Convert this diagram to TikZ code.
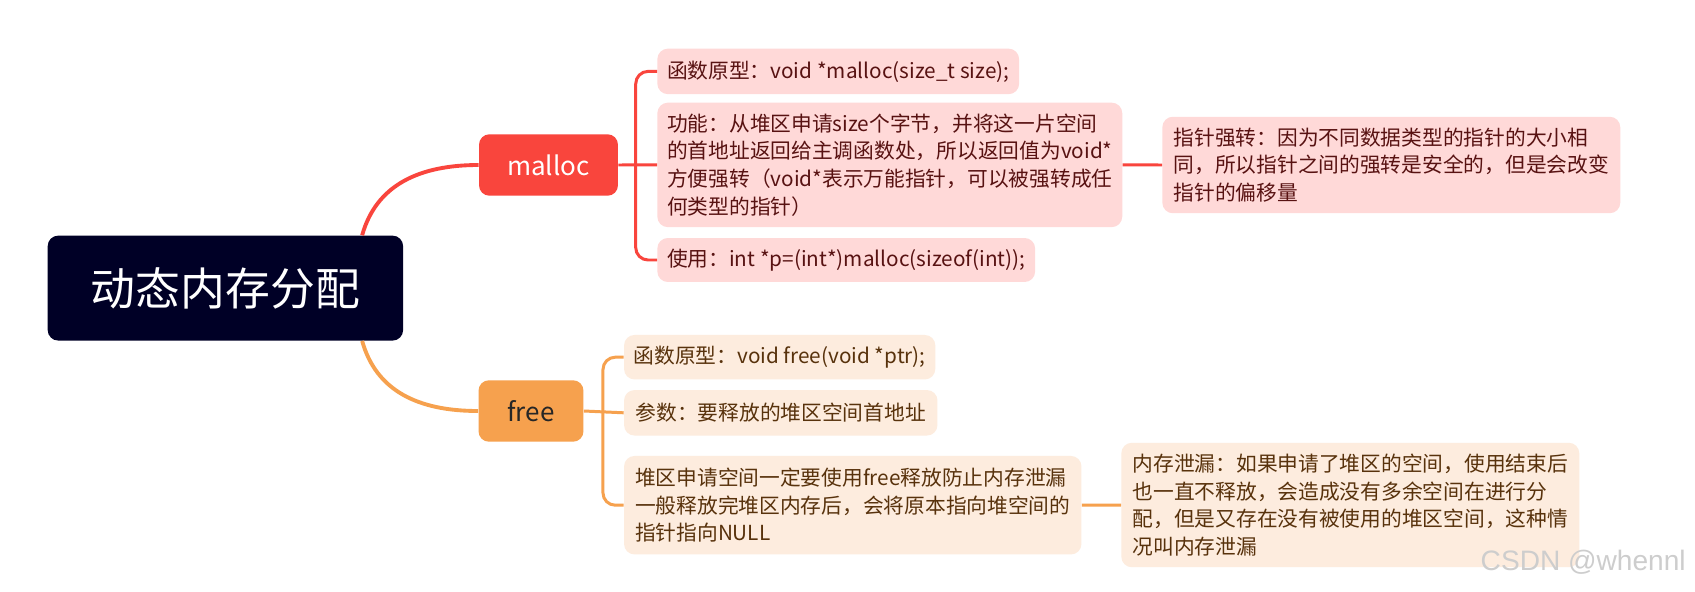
\documentclass[tikz,border=0pt]{standalone}
\usepackage{fontspec}
\setmainfont{Noto Sans CJK SC}
\newfontfamily\markfont{Liberation Sans}
\usepackage{tikz}
\usetikzlibrary{positioning, calc}
\definecolor{rootnavy}{RGB}{0,0,38}
\definecolor{mred}{RGB}{249,69,61}
\definecolor{mpink}{RGB}{255,217,216}
\definecolor{mtext}{RGB}{88,18,18}
\definecolor{forange}{RGB}{246,161,78}
\definecolor{fcream}{RGB}{253,236,222}
\definecolor{ftext}{RGB}{88,50,12}
\definecolor{marks}{RGB}{205,205,205}
\tikzset{
  rootbox/.style={rectangle, fill=rootnavy, text=white, rounded corners=6pt,
    minimum width=7.11cm, minimum height=2.10cm, font=\fontsize{25.5}{30}\selectfont},
  topicbox/.style={rectangle, rounded corners=6pt, minimum height=1.23cm,
    font=\fontsize{14.8}{17}\selectfont},
  mleaf/.style={rectangle, fill=mpink, text=mtext, rounded corners=6pt,
    align=left, anchor=west, inner xsep=5.5pt, font=\fontsize{11.8}{15.7}\selectfont},
  fleaf/.style={rectangle, fill=fcream, text=ftext, rounded corners=6pt,
    align=left, anchor=west, inner xsep=5.5pt, font=\fontsize{11.8}{15.7}\selectfont},
  mline/.style={draw=mred, line width=1.7pt},
  fline/.style={draw=forange, line width=1.7pt},
  mcurve/.style={draw=mred, line width=2.2pt},
  fcurve/.style={draw=forange, line width=2.2pt}
}
\begin{document}
\begin{tikzpicture}[x=0.02cm, y=-0.02cm]
  \useasboundingbox[fill=white] (0,0) rectangle (1695,592);

  \node[rootbox] (root) at (225.4,288.1) {动态内存分配};
  \node[topicbox, fill=mred, text=white, minimum width=2.78cm] (malloc) at (548.5,165) {malloc};
  \node[topicbox, fill=forange, text=black!85, minimum width=2.10cm] (free) at (531,411) {free};

  % malloc branch
  \node[mleaf, minimum width=6.98cm, minimum height=0.91cm] (mproto) at (657,71.4)
    {函数原型：void *malloc(size\_t size);};
  \node[mleaf, minimum width=9.30cm, minimum height=2.49cm] (mfunc) at (657,164.9)
    {功能：从堆区申请size个字节，并将这一片空间\\
     的首地址返回给主调函数处，所以返回值为void*\\
     方便强转（void*表示万能指针，可以被强转成任\\
     何类型的指针）};
  \node[mleaf, minimum width=7.18cm, minimum height=0.88cm] (muse) at (657,260)
    {使用：int *p=(int*)malloc(sizeof(int));};
  \node[mleaf, minimum width=9.16cm, minimum height=1.93cm] (mcast) at (1162,165)
    {指针强转：因为不同数据类型的指针的大小相\\
     同，所以指针之间的强转是安全的，但是会改变\\
     指针的偏移量};

  % free branch
  \node[fleaf, minimum width=6.05cm, minimum height=0.89cm] (fproto) at (623.7,357.2)
    {函数原型：void free(void *ptr);};
  \node[fleaf, minimum width=6.27cm, minimum height=0.91cm] (fparam) at (623.7,412.8)
    {参数：要释放的堆区空间首地址};
  \node[fleaf, minimum width=9.15cm, minimum height=1.97cm] (fnote) at (623.7,505.2)
    {堆区申请空间一定要使用free释放防止内存泄漏\\
     一般释放完堆区内存后，会将原本指向堆空间的\\
     指针指向NULL};
  \node[fleaf, minimum width=9.16cm, minimum height=2.49cm] (fleak) at (1121,505)
    {内存泄漏：如果申请了堆区的空间，使用结束后\\
     也一直不释放，会造成没有多余空间在进行分\\
     配，但是又存在没有被使用的堆区空间，这种情\\
     况叫内存泄漏};

  % curves from the root
  \coordinate (rtop) at ($(root.north west)!0.884!(root.north east)$);
  \coordinate (rbot) at ($(root.south west)!0.884!(root.south east)$);
  \draw[mcurve] (rtop) .. controls +(14,-50) and +(-60,0) .. (malloc.west);
  \draw[fcurve] (rbot) .. controls +(14,50) and +(-60,0) .. (free.west);

  % brackets
  \coordinate (mjoin) at ($(malloc.east)!0.45!(mfunc.west)$);
  \coordinate (fjoin) at ($(free.east)!0.48!(fparam.west)$);
  \draw[mline, rounded corners=7pt] (mproto.west) -| (mjoin) |- (muse.west);
  \draw[mline] (malloc.east) -- (mfunc.west);
  \draw[mline] (mfunc.east) -- (mcast.west);
  \draw[fline, rounded corners=7pt] (fproto.west) -| (fjoin) |- (fnote.west);
  \draw[fline] (free.east) -- (fparam.west);
  \draw[fline] (fnote.east) -- (fleak.west);

  \node[anchor=east, text=marks, font=\markfont\fontsize{16}{18}\selectfont] (mark) at (1692,562) {CSDN @whennl};
\end{tikzpicture}
\end{document}
